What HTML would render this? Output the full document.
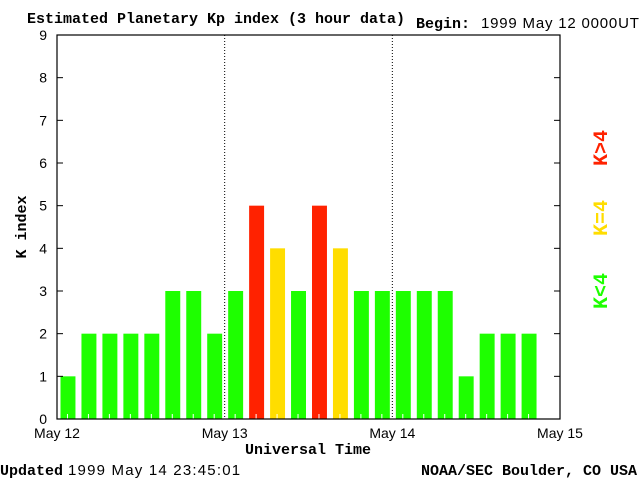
<!DOCTYPE html>
<html><head><meta charset="utf-8"><style>
body{margin:0;background:#fff;width:640px;height:480px;overflow:hidden}
svg{display:block}
.s{font-family:"Liberation Sans",sans-serif;font-size:14px}
.b{font-family:"Liberation Mono",monospace;font-weight:bold;font-size:15px}
</style></head><body>
<svg width="640" height="480">
<text class="b" x="27" y="23">Estimated Planetary Kp index (3 hour data)</text>
<text class="b" x="416" y="28">Begin:</text>
<text class="s" x="481" y="28" style="font-size:15px;letter-spacing:0.8px">1999 May 12 0000UT</text>
<g id="plot"></g>
<text class="b" transform="translate(26,227) rotate(-90)" text-anchor="middle">K index</text>
<text class="b" x="308" y="454" text-anchor="middle">Universal Time</text>
<text class="b" x="0" y="475">Updated</text>
<text class="s" x="68" y="475" style="font-size:15px;letter-spacing:1.2px">1999 May 14 23:45:01</text>
<text class="b" x="421" y="475">NOAA/SEC Boulder, CO USA</text>
<text class="b" fill="#1eff00" style="font-size:20px" transform="translate(607,291) rotate(-90)" text-anchor="middle">K&lt;4</text>
<text class="b" fill="#ffdd00" style="font-size:20px" transform="translate(607,218) rotate(-90)" text-anchor="middle">K=4</text>
<text class="b" fill="#ff2200" style="font-size:20px" transform="translate(607,148) rotate(-90)" text-anchor="middle">K&gt;4</text>
</svg>
<script>
const kpValues=[1,2,2,2,2,3,3,2,3,5,4,3,5,4,3,3,3,3,3,1,2,2,2];
const yTicks=[0,1,2,3,4,5,6,7,8,9];
const dayLabels=["May 12","May 13","May 14","May 15"];
const NS="http://www.w3.org/2000/svg";
const L=57,R=560,T=35,B=419,slots=24;
const xs=i=>L+(R-L)*i/slots;
const ys=v=>B-(B-T)*v/9;
const g=document.getElementById('plot');
function mk(t,a){const e=document.createElementNS(NS,t);for(const k in a)e.setAttribute(k,a[k]);g.appendChild(e);return e;}
kpValues.forEach((v,i)=>{
 const c=v<4?'#1eff00':(v==4?'#ffdd00':'#ff2200');
 const w=(R-L)/slots;
 const r=mk('rect',{x:xs(i)+3.5,y:ys(v),width:w-6,height:B-ys(v),fill:c});
 
 
 const t=mk('line',{x1:xs(i)+w/2,x2:xs(i)+w/2,y1:B-5,y2:B,stroke:'#fff'});
 
 
});
dayLabels.forEach((d,i)=>{
 const x=xs(i*8);
 if(i>0&&i<3){const l=mk('line',{x1:x,x2:x,y1:T,y2:B,stroke:'#000','stroke-dasharray':'1,2'});
  
  }
 const t=mk('text',{x:x,y:438,'text-anchor':'middle',class:'s'});t.textContent=d;
 
 
});
yTicks.forEach(v=>{
 const y=ys(v);
 const tl=mk('line',{x1:L,x2:L+6,y1:y,y2:y,stroke:'#000'});
 
 
 const tr=mk('line',{x1:R-6,x2:R,y1:y,y2:y,stroke:'#000'});
 
 
 const t=mk('text',{x:47,y:y+5,'text-anchor':'end',class:'s'});t.textContent=v;
 
 
});
const f=mk('rect',{x:L,y:T,width:R-L,height:B-T,fill:'none',stroke:'#000','stroke-width':1.2});


</script>
</body></html>
